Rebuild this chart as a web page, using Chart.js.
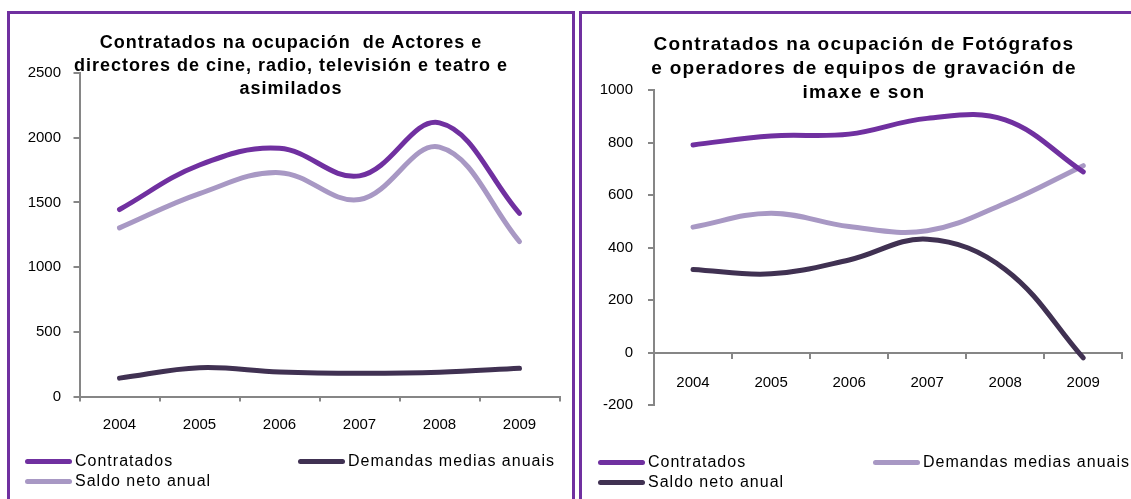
<!DOCTYPE html>
<html>
<head>
<meta charset="utf-8">
<script src="https://cdn.jsdelivr.net/npm/chart.js@4.4.0/dist/chart.umd.min.js"></script>
<style>
html,body{margin:0;padding:0;background:#fff;width:1131px;height:499px;overflow:hidden;position:relative;font-family:"Liberation Sans",Arial,sans-serif;}
.panel{position:absolute;border:3px solid #7030A0;box-sizing:border-box;}
canvas{position:absolute;top:0;}
.title{position:absolute;text-align:center;font-weight:bold;color:#000;white-space:nowrap;z-index:5;}
.leg{position:absolute;font-size:16px;letter-spacing:1px;white-space:nowrap;color:#000;z-index:5;}
.sw{position:absolute;width:47px;height:5px;border-radius:3px;z-index:5;}
</style>
</head>
<body>
<div class="panel" style="left:7px;top:11px;width:568px;height:600px;"></div>
<div class="panel" style="left:579px;top:11px;width:570px;height:600px;"></div>
<canvas id="c1" width="577" height="499" style="left:0px;width:577px;height:499px;"></canvas>
<canvas id="c2" width="554" height="499" style="left:577px;width:554px;height:499px;"></canvas>
<div id="t1" class="title" style="left:7px;width:568px;top:30.5px;font-size:18px;line-height:23px;letter-spacing:1px;"></div>
<div id="t2" class="title" style="left:579px;width:570px;top:32px;font-size:19px;line-height:24px;letter-spacing:1.3px;"></div>
<div id="legends"></div>
<script>
// ---- data ----
const categories = ['2004', '2005', '2006', '2007', '2008', '2009'];
const seriesNames = ['Contratados', 'Demandas medias anuais', 'Saldo neto anual'];

const actContratados = [1445, 1789, 1918, 1705, 2115, 1415];
const actDemandas    = [142, 222, 190, 180, 188, 218];
const actSaldo       = [1303, 1568, 1730, 1522, 1927, 1197];

const fotContratados = [791, 825, 832, 892, 886, 688];
const fotDemandas    = [478, 531, 480, 464, 569, 712];
const fotSaldo       = [317, 300, 353, 432, 317, -20];

const actTitle = ['Contratados na ocupación  de Actores e', 'directores de cine, radio, televisión e teatro e', 'asimilados'];
const fotTitle = ['Contratados na ocupación de Fotógrafos', 'e operadores de equipos de gravación de', 'imaxe e son'];

const actYTicks = [0, 500, 1000, 1500, 2000, 2500];
const fotYTicks = [-200, 0, 200, 400, 600, 800, 1000];

// ---- styles ----
const PURPLE = '#7030A0', DARK = '#403152', LIGHT = '#A898C4', AXIS = '#868686';
const FONT = {family: '"Liberation Sans", Arial, sans-serif', size: 15};

document.getElementById('t1').innerHTML = actTitle.map(s => s.replace(/  /g, ' &nbsp;')).join('<br>');
document.getElementById('t2').innerHTML = fotTitle.join('<br>');

function ds(label, data, color) {
  return {label, data, borderColor: color, backgroundColor: color, borderWidth: 5,
    pointRadius: 0, pointHoverRadius: 0, tension: 0.38, borderCapStyle: 'round',
    borderJoinStyle: 'round', fill: false, clip: 8};
}

function makeChart(id, datasets, yTicks, opt) {
  return new Chart(document.getElementById(id), {
    type: 'line',
    data: {labels: categories, datasets},
    options: {
      responsive: false, animation: false, devicePixelRatio: 1,
      events: [],
      layout: {padding: opt.padding},
      plugins: {legend: {display: false}, title: {display: false}, tooltip: {enabled: false}},
      scales: {
        x: {
          type: 'category', offset: true, position: opt.xPos,
          grid: {offset: true, drawOnChartArea: false, drawTicks: true, tickLength: 5, color: AXIS, lineWidth: 2},
          border: {color: AXIS, width: 2},
          ticks: {font: FONT, color: '#000', padding: opt.xPad, maxRotation: 0, autoSkip: false},
          afterFit: s => { if (opt.xHeight) s.height = opt.xHeight; }
        },
        y: {
          min: yTicks[0], max: yTicks[yTicks.length - 1],
          afterBuildTicks: s => { s.ticks = yTicks.map(v => ({value: v})); },
          grid: {drawOnChartArea: false, drawTicks: true, tickLength: 6, color: AXIS, lineWidth: 2},
          border: {color: AXIS, width: 2},
          ticks: {font: FONT, color: '#000', padding: opt.yPad, callback: v => String(v)},
          afterFit: s => { s.width = opt.yWidth; }
        }
      }
    }
  });
}

const ch1 = makeChart('c1', [
  ds(seriesNames[0], actContratados, PURPLE),
  ds(seriesNames[1], actDemandas, DARK),
  ds(seriesNames[2], actSaldo, LIGHT)
], actYTicks, {padding: {left: 0, top: 73, right: 17.5, bottom: 62.5}, xPos: 'bottom', xPad: 14.5, xHeight: 40, yPad: 12.5, yWidth: 79.5});

const ch2 = makeChart('c2', [
  ds(seriesNames[0], fotContratados, PURPLE),
  ds(seriesNames[1], fotDemandas, LIGHT),
  ds(seriesNames[2], fotSaldo, DARK)
], fotYTicks, {padding: {left: 0, top: 90, right: 8.7, bottom: 93.8}, xPos: {y: 0}, xPad: 16, xHeight: 0, yPad: 15, yWidth: 77});

// ---- HTML legends built from the chart datasets ----
function legend(chart, slots) {
  const host = document.getElementById('legends');
  chart.data.datasets.forEach((d, i) => {
    const [x, y] = slots[i];
    const sw = document.createElement('div');
    sw.className = 'sw';
    sw.style.left = x + 'px'; sw.style.top = (y - 2.5) + 'px'; sw.style.background = d.borderColor;
    host.appendChild(sw);
    const t = document.createElement('div');
    t.className = 'leg';
    t.textContent = d.label;
    t.style.left = (x + 50) + 'px'; t.style.top = (y - 10) + 'px'; t.style.lineHeight = '20px';
    host.appendChild(t);
  });
}
legend(ch1, [[25, 461], [298, 461], [25, 481]]);
legend(ch2, [[598, 462], [873, 462], [598, 482]]);
</script>
</body>
</html>
